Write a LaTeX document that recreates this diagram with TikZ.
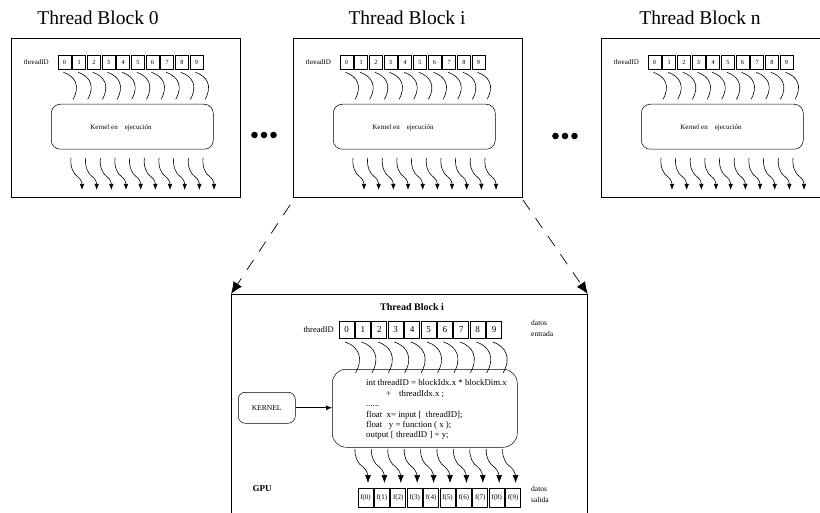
\documentclass[tikz,border=0pt]{standalone}
\usepackage{fontspec}
\setmainfont{Liberation Serif}
\usetikzlibrary{arrows.meta,calc}
\tikzset{
  panelbox/.style={draw, line width=0.7pt, inner sep=0pt, anchor=north west},
  ttl/.style={font=\fontsize{19.5}{20}\selectfont, inner sep=0pt},
  smallcell/.style={draw, line width=0.7pt, inner sep=0pt, minimum width=13pt, minimum height=14pt, font=\fontsize{6.3}{6.3}\selectfont},
  bigcell/.style={draw, line width=0.8pt, inner sep=0pt, minimum width=15pt, minimum height=17pt, font=\fontsize{9}{9}\selectfont},
  outcell/.style={draw, line width=0.8pt, inner sep=0pt, minimum width=15pt, minimum height=19pt, font=\fontsize{7}{7}\selectfont},
  smalllbl/.style={font=\fontsize{7}{7}\selectfont, inner sep=0pt},
  kbox/.style={draw, line width=0.5pt, inner sep=0pt, anchor=north west},
  flow/.style={line width=0.6pt},
  outarrow/.style={line width=0.6pt, -{Latex[length=6pt,width=4.5pt]}},
  outarrowbig/.style={line width=0.6pt, -{Latex[length=8pt,width=6pt]}},
  dasharr/.style={line width=0.7pt, dash pattern=on 12pt off 10pt, -{Latex[length=12pt,width=10pt]}},
  codefont/.style={font=\fontsize{8.8}{10.4}\selectfont, inner sep=0pt, anchor=north west, align=left},
  sidelbl/.style={font=\fontsize{7.5}{11.5}\selectfont, inner sep=0pt, anchor=north west, align=left}
}
\begin{document}
\begin{tikzpicture}[x=1pt,y=-1pt]
\useasboundingbox (0,0) rectangle (820,513);

% ---------- top panels ----------
\foreach \px/\pw/\tx/\tn/\pp in {11/229/87/0/A,293/229/114/i/B,601/219/99/n/C}{
  \begin{scope}[shift={(\px,0)}, name prefix=\pp-]
    \node[panelbox, minimum width=\pw pt, minimum height=159pt] (box) at (0,38) {};
    \node[ttl] (title) at (\tx,18) {Thread Block \tn};
    \node[smalllbl, anchor=east] (lbl) at (38,62) {threadID};
    \foreach \k in {0,...,9}{
      \node[smallcell] (c\k) at ({53.5+14.67*\k},62) {\k};
      \begin{scope}[shift={($(c\k.south)+(-1,3)$)}]
        \draw[flow] (0,0) .. controls (12,4) and (17,14) .. (9.5,27);
      \end{scope}
      \begin{scope}[shift={({60+14.67*\k},158)}]
        \draw[outarrow] (0,0) .. controls (-1,8) and (2,16) .. (7,19) .. controls (10,21) and (11,25) .. (11,32);
      \end{scope}
    }
    \node[kbox, rounded corners=9pt, minimum width=162pt, minimum height=45pt] (kern) at (40,104) {};
    \node[smalllbl] (ktext) at (110,128) {Kernel en\quad ejecución};
  \end{scope}
}

% ---------- dots ----------
\foreach \x in {254.5,264,273.5}{\fill (\x,135) circle (3.3);}
\foreach \x in {555.5,565,574.5}{\fill (\x,136) circle (3.3);}

% ---------- bottom detailed panel ----------
\node[panelbox, line width=0.8pt, minimum width=356pt, minimum height=225pt] (big) at (231,294) {};
\coordinate (dA) at (290,205);
\coordinate (dB) at (523,200);
\draw[dasharr] (dA) -- (big.north west);
\draw[dasharr] (dB) -- (big.north east);

\node[font=\fontsize{10}{10}\selectfont\bfseries, inner sep=0pt] (btitle) at (412,307) {Thread Block i};
\node[font=\fontsize{8.5}{8.5}\selectfont, inner sep=0pt, anchor=east] (blbl) at (334,330) {threadID};
\node[sidelbl] (din) at (531,320) {datos\\entrada};

\foreach \k in {0,...,9}{
  \node[bigcell] (d\k) at ({346.5+16.4*\k},330) {\k};
  \begin{scope}[shift={($(d\k.south)+(-1.5,3)$)}]
    \draw[flow] (0,0) .. controls (13.5,4.5) and (19,16) .. (10.5,31);
  \end{scope}
  \begin{scope}[shift={({355+16.4*\k},449)}]
    \draw[outarrowbig] (0,0) .. controls (-0.5,8) and (3,15) .. (8,18) .. controls (12,21) and (13,27) .. (13,34);
  \end{scope}
  \node[outcell] (f\k) at ({365.5+16.4*\k},497.5) {f(\k)};
}

\node[kbox, rounded corners=14pt, minimum width=185pt, minimum height=78pt] (code) at (332,369) {};
\node[codefont] (codetext) at (366,379.5) {int threadID = blockIdx.x * blockDim.x\\
\hspace{20pt}+\hspace{8pt}threadIdx.x ;\\
......\\
float\ \ x= input [\ \ threadID];\\
float\ \ \ y = function ( x );\\
output [ threadID ] = y;};

\node[kbox, rounded corners=7pt, minimum width=57pt, minimum height=31pt, font=\fontsize{7.5}{7.5}\selectfont] (kernel) at (238,392) {KERNEL};
\draw[line width=0.6pt, -{Latex[length=6pt,width=5pt]}] (kernel.east) -- (kernel.east -| code.west);

\node[font=\fontsize{9}{9}\selectfont\bfseries, inner sep=0pt] (gpu) at (262,489) {GPU};
\node[sidelbl] (dout) at (531,486) {datos\\salida};
\end{tikzpicture}
\end{document}
